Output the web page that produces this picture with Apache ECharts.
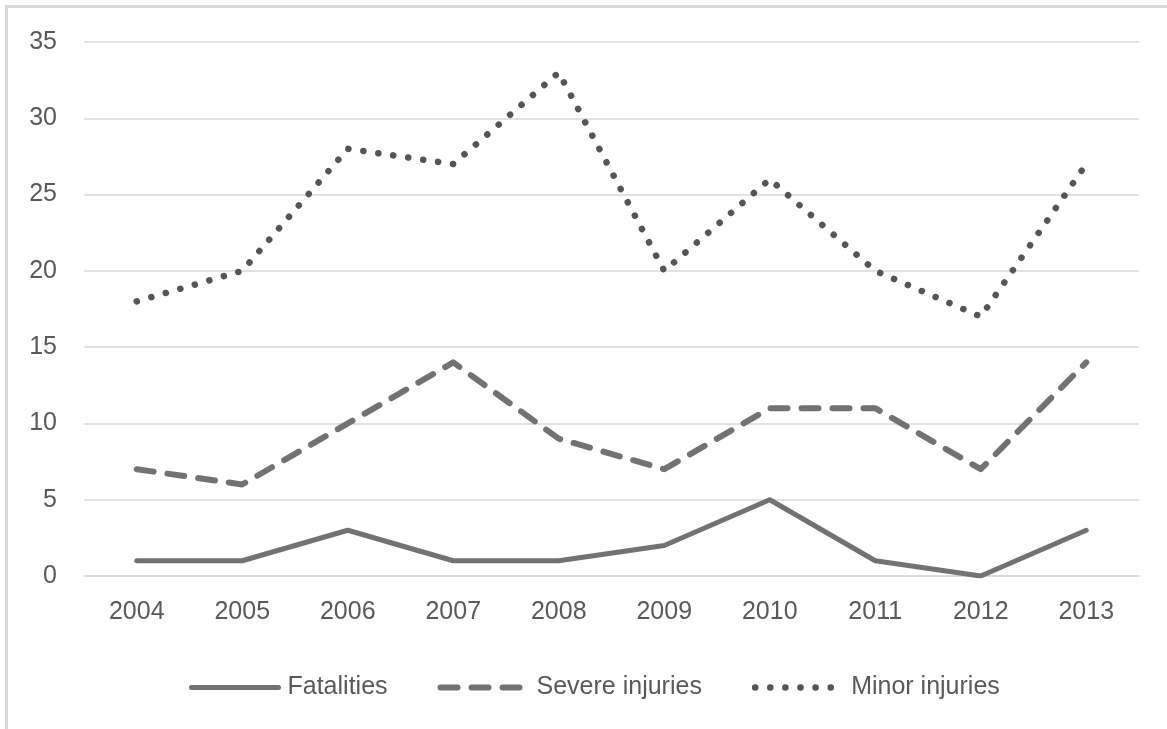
<!DOCTYPE html>
<html>
<head>
<meta charset="utf-8">
<script src="https://cdn.jsdelivr.net/npm/echarts@6/dist/echarts.min.js"></script>
<style>
html,body{margin:0;padding:0;background:#fff;}
#chart{width:1167px;height:729px;}
</style>
</head>
<body>
<div id="chart"></div>
<script>
const years = ['2004','2005','2006','2007','2008','2009','2010','2011','2012','2013'];
const fatalities = [1, 1, 3, 1, 1, 2, 5, 1, 0, 3];
const severeInjuries = [7, 6, 10, 14, 9, 7, 11, 11, 7, 14];
const minorInjuries = [18, 20, 28, 27, 33, 20, 26, 20, 17, 27];
const seriesNames = ['Fatalities', 'Severe injuries', 'Minor injuries'];

const FONT = "'Liberation Sans', 'DejaVu Sans', sans-serif";
const TEXT = '#595959';
const LINE = '#727272';
const DOT = '#555555';

const styles = [
  { color: LINE, width: 5, type: 'solid', cap: 'round', join: 'round' },
  { color: LINE, width: 6, type: [17, 14], cap: 'round', join: 'round' },
  { color: DOT, width: 6.5, type: [0.1, 15], cap: 'round', join: 'round' }
];

const chart = echarts.init(document.getElementById('chart'));
chart.setOption({
  animation: false,
  backgroundColor: '#fff',
  graphic: [{
    type: 'rect',
    shape: { x: 6.5, y: 6.5, width: 1300, height: 900 },
    style: { fill: 'none', stroke: '#d9d9d9', lineWidth: 3 },
    silent: true
  }],
  grid: { left: 84, right: 28, top: 42, bottom: 153, containLabel: false },
  legend: {
    left: 184,
    top: 670,
    itemWidth: 87,
    itemHeight: 14,
    itemGap: 50,
    itemStyle: { opacity: 0 },
    textStyle: { color: TEXT, fontFamily: FONT, fontSize: 25, padding: [0, 0, 0, 4] },
    data: seriesNames.map((n, i) => ({
      name: n,
      itemStyle: { opacity: 0 },
      lineStyle: Object.assign({}, styles[i])
    }))
  },
  xAxis: {
    type: 'category',
    data: years,
    boundaryGap: true,
    axisLine: { show: true, lineStyle: { color: '#d9d9d9', width: 1.5 } },
    axisTick: { show: false },
    axisLabel: { color: TEXT, fontFamily: FONT, fontSize: 25, margin: 24 }
  },
  yAxis: {
    type: 'value',
    min: 0, max: 35, interval: 5,
    axisLine: { show: false },
    axisTick: { show: false },
    axisLabel: { color: TEXT, fontFamily: FONT, fontSize: 25, margin: 27 },
    splitLine: { lineStyle: { color: '#d9d9d9', width: 1.5 } }
  },
  series: [
    { name: seriesNames[0], type: 'line', data: fatalities, symbol: 'none', showSymbol: false, color: styles[0].color, lineStyle: styles[0] },
    { name: seriesNames[1], type: 'line', data: severeInjuries, symbol: 'none', showSymbol: false, color: styles[1].color, lineStyle: styles[1] },
    { name: seriesNames[2], type: 'line', data: minorInjuries, symbol: 'none', showSymbol: false, color: styles[2].color, lineStyle: styles[2] }
  ]
});
</script>
</body>
</html>
